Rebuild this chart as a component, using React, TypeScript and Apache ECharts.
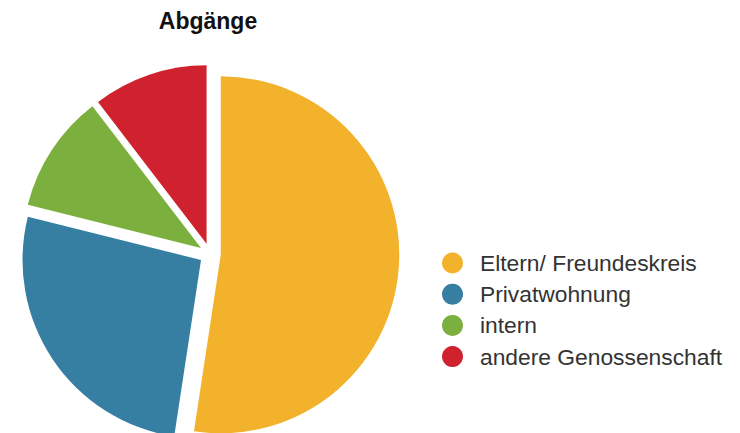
import React, { useEffect, useRef } from "react";
import * as echarts from "echarts";

const categories = ["Eltern/ Freundeskreis", "Privatwohnung", "intern", "andere Genossenschaft"];
const values = [52.4, 26.5, 10.7, 10.4];
const colors = ["#F2B22B", "#367FA3", "#7BAF3E", "#D0222E"];
const titleText = "Abgänge";

export default function App() {
  const ref = useRef<HTMLDivElement>(null);
  useEffect(() => {
    if (!ref.current) return;
    const chart = echarts.init(ref.current, null, { renderer: "svg" });
    chart.setOption({
      animation: false,
      title: {
        text: titleText,
        left: 208,
        top: 20.5,
        textAlign: "center",
        textVerticalAlign: "middle",
        padding: 0,
        textStyle: {
          fontFamily: "Liberation Sans, Arial, sans-serif",
          fontSize: 23,
          fontWeight: "bold",
          color: "#111",
        },
      },
      legend: {
        orient: "vertical",
        left: 442,
        top: 251.5,
        padding: 0,
        icon: "circle",
        itemWidth: 21,
        itemHeight: 21,
        itemGap: 8.2,
        selectedMode: false,
        data: categories,
        textStyle: {
          fontFamily: "Liberation Sans, Arial, sans-serif",
          fontSize: 22.8,
          lineHeight: 21,
          color: "#333",
          padding: [0, 0, 0, 12],
        },
      },
      series: [
        {
          type: "pie",
          center: [210, 254],
          radius: 178.5,
          startAngle: 90,
          clockwise: true,
          selectedMode: "multiple",
          selectedOffset: 10.8,
          label: { show: false },
          labelLine: { show: false },
          emphasis: { disabled: true },
          itemStyle: { borderWidth: 0 },
          data: categories.map((name, i) => ({
            name,
            value: values[i],
            selected: true,
            itemStyle: { color: colors[i] },
          })),
        },
      ],
    });
    return () => chart.dispose();
  }, []);
  return (
    <div
      ref={ref}
      style={{ position: "absolute", left: 0, top: 0, width: 740, height: 433, background: "#fff" }}
    />
  );
}
